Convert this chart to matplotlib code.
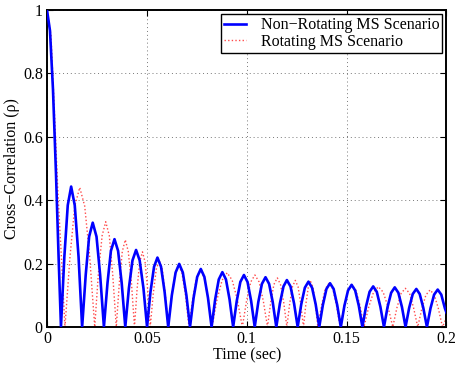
import matplotlib
matplotlib.use("Agg")
import matplotlib.pyplot as plt

# ---- data ----
t_nonrot = [0.0000, 0.0015, 0.0030, 0.0045, 0.0058, 0.0070,
            0.0087, 0.0104, 0.0121, 0.0139, 0.0158, 0.0176,
            0.0194, 0.0211, 0.0229, 0.0248, 0.0266, 0.0285,
            0.0303, 0.0320, 0.0338, 0.0356, 0.0374, 0.0392,
            0.0410, 0.0428, 0.0446, 0.0464, 0.0483, 0.0501,
            0.0518, 0.0536, 0.0553, 0.0571, 0.0589, 0.0607,
            0.0625, 0.0644, 0.0662, 0.0680, 0.0698, 0.0716,
            0.0734, 0.0752, 0.0770, 0.0788, 0.0806, 0.0824,
            0.0842, 0.0860, 0.0878, 0.0896, 0.0914, 0.0932,
            0.0950, 0.0968, 0.0986, 0.1004, 0.1022, 0.1040,
            0.1058, 0.1076, 0.1094, 0.1112, 0.1130, 0.1148,
            0.1166, 0.1184, 0.1201, 0.1219, 0.1237, 0.1255,
            0.1273, 0.1291, 0.1309, 0.1327, 0.1345, 0.1363,
            0.1381, 0.1399, 0.1417, 0.1435, 0.1453, 0.1471,
            0.1489, 0.1507, 0.1525, 0.1543, 0.1561, 0.1579,
            0.1597, 0.1615, 0.1633, 0.1651, 0.1669, 0.1687,
            0.1705, 0.1723, 0.1741, 0.1759, 0.1777, 0.1795,
            0.1813, 0.1831, 0.1849, 0.1866, 0.1884, 0.1902,
            0.1920, 0.1938, 0.1956, 0.1974, 0.1992, 0.2000]
rho_nonrot = [1.000, 0.935, 0.750, 0.486, 0.224, 0.000,
              0.222, 0.384, 0.443, 0.384, 0.222, 0.000,
              0.165, 0.285, 0.329, 0.285, 0.165, 0.000,
              0.139, 0.240, 0.277, 0.240, 0.139, 0.000,
              0.122, 0.210, 0.243, 0.210, 0.122, 0.000,
              0.110, 0.190, 0.219, 0.190, 0.110, 0.000,
              0.100, 0.172, 0.199, 0.172, 0.100, 0.000,
              0.092, 0.158, 0.183, 0.158, 0.092, 0.000,
              0.087, 0.150, 0.173, 0.150, 0.087, 0.000,
              0.082, 0.142, 0.164, 0.142, 0.082, 0.000,
              0.079, 0.136, 0.157, 0.136, 0.079, 0.000,
              0.074, 0.128, 0.148, 0.128, 0.074, 0.000,
              0.072, 0.124, 0.143, 0.124, 0.072, 0.000,
              0.069, 0.120, 0.138, 0.120, 0.069, 0.000,
              0.067, 0.115, 0.133, 0.115, 0.067, 0.000,
              0.064, 0.111, 0.128, 0.111, 0.064, 0.000,
              0.063, 0.108, 0.125, 0.108, 0.063, 0.000,
              0.060, 0.104, 0.120, 0.104, 0.060, 0.000,
              0.059, 0.102, 0.118, 0.102, 0.059, 0.045]

t_rot = [0.0000, 0.0020, 0.0040, 0.0055, 0.0073, 0.0081, 0.0090,
         0.0115, 0.0139, 0.0164, 0.0189, 0.0214, 0.0239,
         0.0257, 0.0276, 0.0294, 0.0312, 0.0329, 0.0347,
         0.0362, 0.0377, 0.0392, 0.0407, 0.0423, 0.0438,
         0.0451, 0.0464, 0.0478, 0.0491, 0.0504, 0.0517,
         0.0532, 0.0547, 0.0562, 0.0577, 0.0592, 0.0607,
         0.0624, 0.0642, 0.0659, 0.0676, 0.0694, 0.0711,
         0.0730, 0.0749, 0.0768, 0.0787, 0.0807, 0.0826,
         0.0851, 0.0877, 0.0902, 0.0927, 0.0953, 0.0978,
         0.0999, 0.1020, 0.1041, 0.1062, 0.1083, 0.1104,
         0.1120, 0.1136, 0.1153, 0.1169, 0.1185, 0.1201,
         0.1215, 0.1229, 0.1243, 0.1257, 0.1270, 0.1284,
         0.1296, 0.1308, 0.1320, 0.1332, 0.1344, 0.1356,
         0.1375, 0.1393, 0.1412, 0.1431, 0.1449, 0.1468,
         0.1488, 0.1507, 0.1527, 0.1547, 0.1567, 0.1587,
         0.1611, 0.1635, 0.1659, 0.1683, 0.1707, 0.1731,
         0.1752, 0.1773, 0.1794, 0.1815, 0.1835, 0.1856,
         0.1877, 0.1897, 0.1918, 0.1939, 0.1959, 0.1980,
         0.2000]
rho_rot = [1.000, 0.920, 0.640, 0.420, 0.210, 0.110, 0.000,
           0.220, 0.381, 0.440, 0.381, 0.220, 0.000,
           0.166, 0.288, 0.332, 0.288, 0.166, 0.000,
           0.138, 0.238, 0.275, 0.238, 0.138, 0.000,
           0.119, 0.205, 0.237, 0.205, 0.119, 0.000,
           0.105, 0.182, 0.210, 0.182, 0.105, 0.000,
           0.098, 0.169, 0.195, 0.169, 0.098, 0.000,
           0.090, 0.156, 0.180, 0.156, 0.090, 0.000,
           0.086, 0.148, 0.171, 0.148, 0.086, 0.000,
           0.082, 0.142, 0.164, 0.142, 0.082, 0.000,
           0.078, 0.134, 0.155, 0.134, 0.078, 0.000,
           0.074, 0.127, 0.147, 0.127, 0.074, 0.000,
           0.072, 0.124, 0.143, 0.124, 0.072, 0.000,
           0.069, 0.120, 0.138, 0.120, 0.069, 0.000,
           0.067, 0.115, 0.133, 0.115, 0.067, 0.000,
           0.064, 0.110, 0.127, 0.110, 0.064, 0.000,
           0.061, 0.106, 0.122, 0.106, 0.061, 0.000,
           0.059, 0.101, 0.117, 0.101, 0.059, 0.000,
           0.030]

x_ticks = [0, 0.05, 0.1, 0.15, 0.2]
x_ticklabels = ["0", "0.05", "0.1", "0.15", "0.2"]
y_ticks = [0, 0.2, 0.4, 0.6, 0.8, 1]
y_ticklabels = ["0", "0.2", "0.4", "0.6", "0.8", "1"]
label_nonrot = "Non\u2212Rotating MS Scenario"
label_rot = "Rotating MS Scenario"
x_label = "Time (sec)"
y_label = "Cross\u2212Correlation (\u03c1)"

plt.rcParams['font.family'] = ['Liberation Serif', 'DejaVu Serif']
plt.rcParams['font.size'] = 11.5

fig = plt.figure(figsize=(4.57, 3.66), dpi=100)
ax = fig.add_axes([0.1028, 0.1066, 0.8742, 0.8661])

ax.plot(t_nonrot, rho_nonrot, color='#0000ff', lw=1.9, label=label_nonrot,
        zorder=3, solid_joinstyle='round')
ax.plot(t_rot, rho_rot, color='#ff4a4a', lw=1.0, ls=(0, (1, 1.6)), label=label_rot, zorder=2)

ax.set_xlim(0, 0.2)
ax.set_ylim(0, 1)
ax.set_xticks(x_ticks)
ax.set_xticklabels(x_ticklabels)
ax.set_yticks(y_ticks)
ax.set_yticklabels(y_ticklabels)
ax.tick_params(direction='in', length=4, width=0.8, top=True, right=True, pad=3)
ax.grid(True, ls=(0, (1, 3)), color='#777777', lw=0.7)
for s in ax.spines.values():
    s.set_linewidth(1.4)
ax.set_xlabel(x_label, labelpad=0)
ax.set_ylabel(y_label, labelpad=2)

leg = ax.legend(loc='upper right', fancybox=False, framealpha=1, edgecolor='black',
                borderpad=0.2, handlelength=1.4, handletextpad=0.9, labelspacing=0.05,
                borderaxespad=0.25)
leg.get_frame().set_linewidth(1.0)

fig.savefig("out.png", dpi=100)
